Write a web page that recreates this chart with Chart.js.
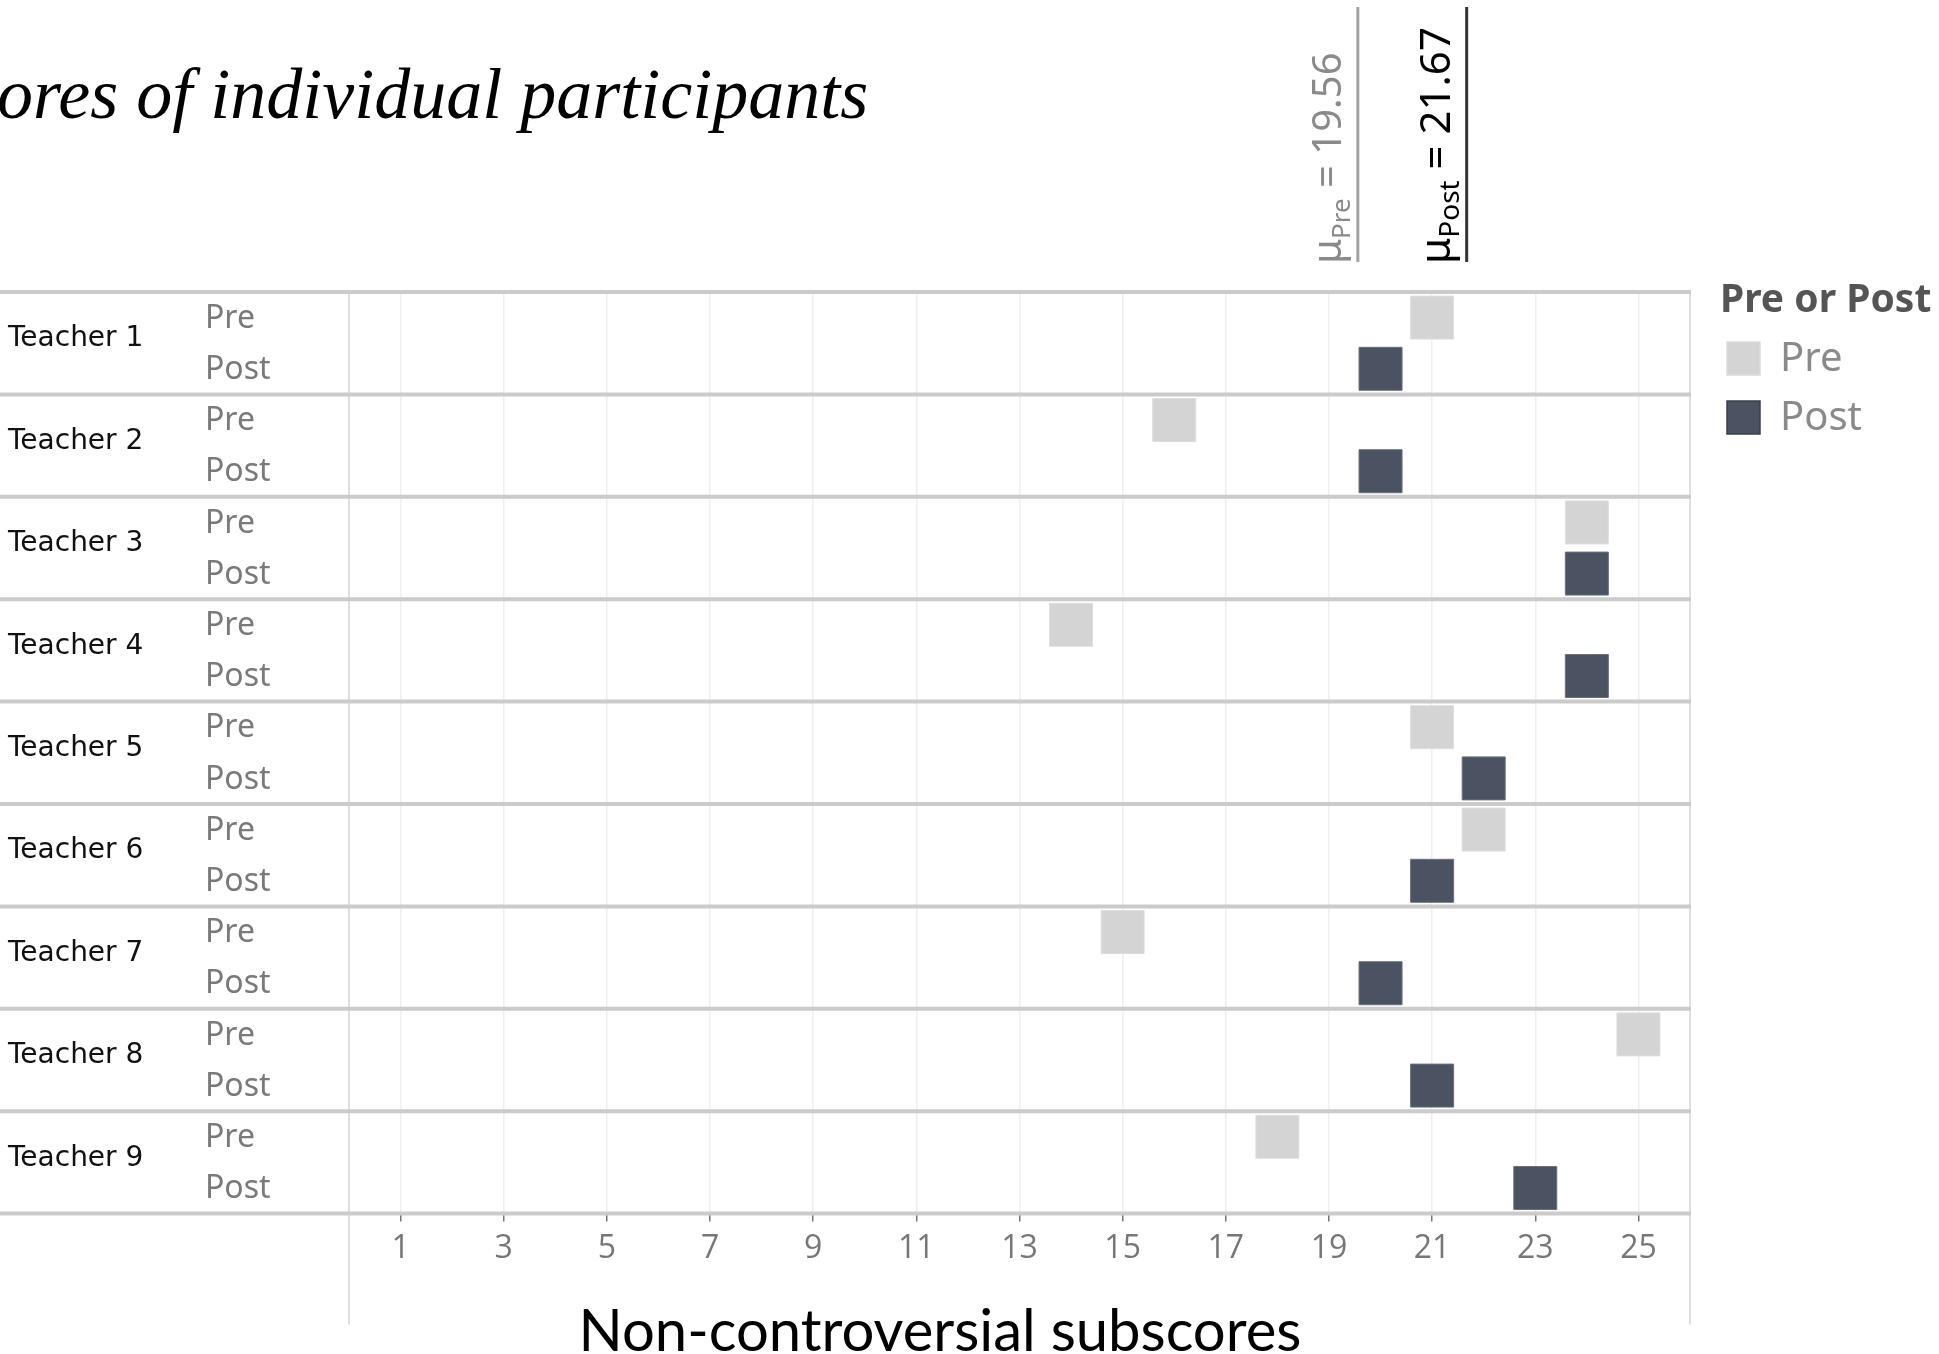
<!DOCTYPE html>
<html>
<head>
<meta charset="utf-8">
<script src="https://cdn.jsdelivr.net/npm/chart.js@4.4.1/dist/chart.umd.min.js"></script>
<style>
  html, body { margin: 0; padding: 0; background: #fff; }
  #wrap { width: 1939px; height: 1354px; position: relative; }
</style>
</head>
<body>
<div id="wrap"><canvas id="chart"></canvas></div>
<script>
const teachers = ['Teacher 1', 'Teacher 2', 'Teacher 3', 'Teacher 4', 'Teacher 5', 'Teacher 6', 'Teacher 7', 'Teacher 8', 'Teacher 9'];
const phases = ['Pre', 'Post'];
const preScores = [21, 16, 24, 14, 21, 22, 15, 25, 18];
const postScores = [20, 20, 24, 24, 22, 21, 20, 21, 23];
const means = [19.56, 21.67];
const xTicks = [1, 3, 5, 7, 9, 11, 13, 15, 17, 19, 21, 23, 25];
const chartTitle = 'ores of individual participants';
const axisTitle = 'Non-controversial subscores';
const legendTitle = 'Pre or Post';

const preColor = '#d4d4d4';
const postColor = '#4b5261';

// each teacher gets two sub-rows: Pre at 2i+0.5, Post at 2i+1.5
const toPoints = (scores, offset) => scores.map((v, i) => ({ x: v, y: 2 * i + offset }));

const overlay = {
  id: 'overlay',
  beforeDatasetsDraw(chart) {
    const { ctx, chartArea: a, scales: { y } } = chart;
    ctx.save();
    // side borders of the plot, running down into the axis area
    ctx.strokeStyle = '#dedede';
    ctx.lineWidth = 2;
    [a.left, a.right].forEach(px => {
      ctx.beginPath();
      ctx.moveTo(px, a.top);
      ctx.lineTo(px, a.bottom + 111);
      ctx.stroke();
    });
    // row separators
    ctx.strokeStyle = '#cbcbcb';
    ctx.lineWidth = 4;
    for (let i = 0; i <= teachers.length; i++) {
      const py = y.getPixelForValue(2 * i);
      ctx.beginPath();
      ctx.moveTo(0, py);
      ctx.lineTo(a.right + 1, py);
      ctx.stroke();
    }
    ctx.restore();
  },
  afterDraw(chart) {
    const { ctx, scales: { x, y } } = chart;
    ctx.save();

    // row labels
    ctx.textBaseline = 'middle';
    ctx.textAlign = 'left';
    teachers.forEach((t, i) => {
      ctx.fillStyle = '#111';
      ctx.font = '28px "DejaVu Sans"';
      ctx.fillText(t, 8, y.getPixelForValue(2 * i + 1) - 4);
      ctx.fillStyle = '#7a7a7a';
      ctx.font = '32px "Noto Sans"';
      phases.forEach((p, j) => {
        ctx.fillText(p, 205, y.getPixelForValue(2 * i + 0.5 + j) + 1);
      });
    });

    // title (cut at the left edge)
    ctx.fillStyle = '#000';
    ctx.font = 'italic 72px "Liberation Serif"';
    ctx.textBaseline = 'alphabetic';
    ctx.fillText(chartTitle, -3, 118);

    // x axis title
    ctx.textAlign = 'center';
    ctx.textBaseline = 'middle';
    ctx.font = '58px Lato';
    ctx.fillText(axisTitle, 940, 1332);
    ctx.textAlign = 'left';

    // mean lines with rotated labels
    const meanStyles = [
      { line: '#a3a3a3', text: '#8a8a8a', sub: 'Pre', size: 40 },
      { line: '#333', text: '#000', sub: 'Post', size: 42 }
    ];
    means.forEach((m, k) => {
      const s = meanStyles[k];
      const px = x.getPixelForValue(m);
      ctx.strokeStyle = s.line;
      ctx.lineWidth = 3;
      ctx.beginPath();
      ctx.moveTo(px, 7);
      ctx.lineTo(px, 262);
      ctx.stroke();

      ctx.save();
      ctx.translate(px - 17, 264);
      ctx.rotate(-Math.PI / 2);
      ctx.fillStyle = s.text;
      ctx.textBaseline = 'alphabetic';
      ctx.font = s.size + 'px "Noto Sans"';
      ctx.fillText('\u03bc', 0, 0);
      let w = ctx.measureText('\u03bc').width;
      ctx.font = Math.round(s.size * 0.66) + 'px "Noto Sans"';
      ctx.fillText(s.sub, w, 9);
      w += ctx.measureText(s.sub).width;
      ctx.font = s.size + 'px "Noto Sans"';
      ctx.fillText(' = ' + m.toFixed(2), w, 0);
      ctx.restore();
    });

    // legend
    ctx.textBaseline = 'middle';
    ctx.fillStyle = '#555';
    ctx.font = 'bold 39px "Noto Sans"';
    ctx.fillText(legendTitle, 1720, 301);
    chart.data.datasets.forEach((ds, i) => {
      const cy = 358 + i * 59;
      ctx.fillStyle = ds.backgroundColor;
      ctx.fillRect(1727, cy - 16, 33, 33);
      ctx.strokeStyle = i ? '#3a404c' : '#dcdcdc';
      ctx.lineWidth = 1.5;
      ctx.strokeRect(1727, cy - 16, 33, 33);
      ctx.fillStyle = '#8a8a8a';
      ctx.font = '40px "Noto Sans"';
      ctx.fillText(ds.label, 1780, cy + 2);
    });
    ctx.restore();
  }
};

new Chart(document.getElementById('chart'), {
  type: 'scatter',
  data: {
    datasets: [
      {
        label: 'Pre',
        data: toPoints(preScores, 0.5),
        backgroundColor: preColor,
        borderColor: '#dedede',
        borderWidth: 1,
        pointStyle: 'rect',
        pointRadius: 30.4
      },
      {
        label: 'Post',
        data: toPoints(postScores, 1.5),
        backgroundColor: postColor,
        borderColor: '#6a707c',
        borderWidth: 1,
        pointStyle: 'rect',
        pointRadius: 30.4
      }
    ]
  },
  options: {
    responsive: true,
    maintainAspectRatio: false,
    animation: false,
    events: [],
    layout: { padding: { left: 349, right: 249, top: 292, bottom: 78 } },
    plugins: {
      legend: { display: false },
      tooltip: { enabled: false }
    },
    scales: {
      x: {
        type: 'linear',
        position: 'bottom',
        min: 0,
        max: 26,
        afterBuildTicks: scale => { scale.ticks = xTicks.map(v => ({ value: v })); },
        grid: { color: '#efefef', lineWidth: 1.5, drawTicks: true, tickLength: 8, tickColor: '#777', tickWidth: 1.5 },
        border: { display: false },
        ticks: {
          autoSkip: false,
          maxRotation: 0,
          padding: 8,
          color: '#777',
          font: { family: 'Open Sans', size: 32 }
        },
        title: { display: false }
      },
      y: {
        type: 'linear',
        min: 0,
        max: 18,
        reverse: true,
        display: false
      }
    }
  },
  plugins: [overlay]
});
</script>
</body>
</html>
